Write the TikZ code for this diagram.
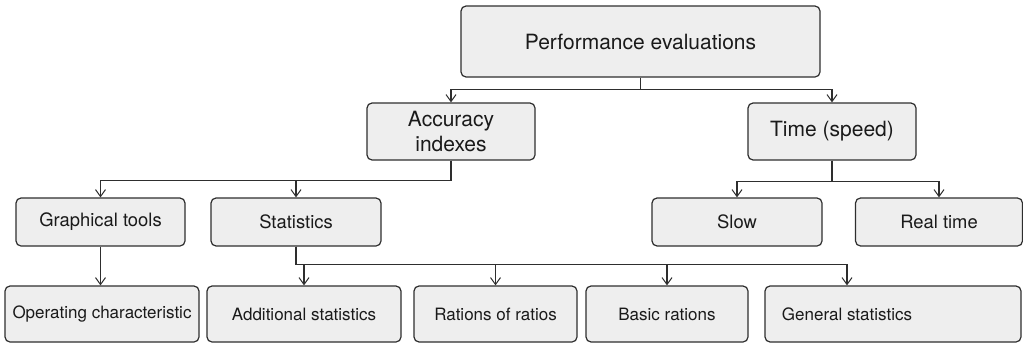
\documentclass[tikz,border=0pt]{standalone}
\usepackage{fontspec}
\setmainfont{TeX Gyre Heros}
\usetikzlibrary{arrows.meta}
\definecolor{boxfill}{HTML}{EEEEEE}
\definecolor{edge}{HTML}{2E2E2E}
\definecolor{ink}{HTML}{1A1A1A}
\tikzset{
  box/.style={draw=edge, fill=boxfill, line width=1.2pt, rounded corners=5pt,
    text=ink, align=center, inner sep=0pt},
  bigtext/.style={font=\fontsize{21}{25}\selectfont},
  midtext/.style={font=\fontsize{18.4}{22}\selectfont},
  smalltext/.style={font=\fontsize{17}{20}\selectfont},
  link/.style={draw=edge, line width=1.2pt,
    -{Straight Barb[length=7pt, width=10pt, line width=1pt]}},
}
\begin{document}
\begin{tikzpicture}[x=1pt, y=-1pt]
\useasboundingbox (0,0) rectangle (1023,343);

% root
\node[box, bigtext, minimum width=359pt, minimum height=71pt] (top) at (640.5,41.5) {Performance evaluations};

% second level
\node[box, bigtext, minimum width=168pt, minimum height=57pt] (acc) at (451,131.5) {Accuracy\\indexes};
\node[box, bigtext, minimum width=168pt, minimum height=57pt] (time) at (832,131.5) {Time (speed)};

% third level
\node[box, midtext, minimum width=169pt, minimum height=48pt] (graph) at (100.5,222) {Graphical tools};
\node[box, midtext, minimum width=170pt, minimum height=48pt] (stat) at (296,222) {Statistics};
\node[box, midtext, minimum width=170pt, minimum height=48pt] (slow) at (737,222) {Slow};
\node[box, midtext, minimum width=167pt, minimum height=48pt] (real) at (939,222) {Real time};

% fourth level
\node[box, smalltext, minimum width=194pt, minimum height=56pt] (op) at (102,314) {Operating characteristic};
\node[box, smalltext, minimum width=194pt, minimum height=56pt] (add) at (304,314) {Additional statistics};
\node[box, smalltext, minimum width=163pt, minimum height=56pt] (rat) at (495.5,314) {Rations of ratios};
\node[box, smalltext, minimum width=162pt, minimum height=56pt] (basic) at (667,314) {Basic rations};
\node[box, minimum width=256pt, minimum height=56pt] (gen) at (893,314) {};
\node[smalltext, text=ink, inner sep=0pt] (genlabel) at (847,314) {General statistics};

% connectors
\draw[link] (top.south) -- ++(0,12) -| (acc.north);
\draw[link] (top.south) -- ++(0,12) -| (time.north);

\draw[link] (acc.south) -- ++(0,20) -| (graph.north);
\draw[link] (acc.south) -- ++(0,20) -| (stat.north);

\draw[link] (time.south) -- ++(0,21) -| (slow.north);
\draw[link] (time.south) -- ++(0,21) -| (real.north);

\draw[link] (graph.south) -- (graph.south |- op.north);

\draw[link] (stat.south) -- ++(0,18) -| (add.north);
\draw[link] (stat.south) -- ++(0,18) -| (rat.north);
\draw[link] (stat.south) -- ++(0,18) -| (basic.north);
\draw[link] (stat.south) -- ++(0,18) -| (genlabel |- gen.north);
\end{tikzpicture}
\end{document}
